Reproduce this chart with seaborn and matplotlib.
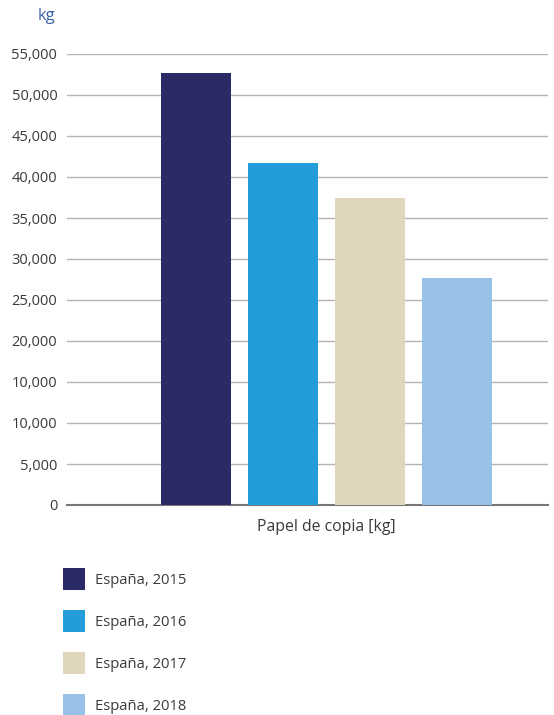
import pandas as pd
import matplotlib.pyplot as plt
import seaborn as sns

# data
category = 'Papel de copia [kg]'
years = ['España, 2015', 'España, 2016', 'España, 2017', 'España, 2018']
values = [52700, 41700, 37450, 27700]
colors = ['#2a2b66', '#229dd9', '#e0d6bc', '#98c1e8']
tick_values = [0, 5000, 10000, 15000, 20000, 25000, 30000, 35000, 40000, 45000, 50000, 55000]
# the reference repeats "10,000" at the 15,000 line
tick_labels = ['0', '5,000', '10,000', '10,000', '20,000', '25,000', '30,000',
               '35,000', '40,000', '45,000', '50,000', '55,000']

df = pd.DataFrame({'Category': [category] * len(years), 'Year': years, 'Value': values})

sns.set_style("white")
plt.rcParams['font.family'] = ['Open Sans', 'DejaVu Sans']

fig = plt.figure(figsize=(5.54, 7.15), dpi=100)
ax = fig.add_axes([67 / 554, 1 - 505 / 715, (548 - 67) / 554, (505 - 54) / 715])

sns.barplot(
    data=df,
    x='Category',
    y='Value',
    hue='Year',
    palette=colors,
    gap=0.2,
    saturation=1,
    linewidth=0,
    ax=ax,
    legend=True,
    zorder=3
)

ax.set_ylim(0, 55000)
ax.set_xlim(-0.597, 0.509)
ax.set_yticks(tick_values)
ax.set_yticklabels(tick_labels)
ax.yaxis.grid(True, color='#b8b1b1', linewidth=1, zorder=0)
ax.tick_params(axis='y', length=0, pad=7, labelsize=10.5, labelcolor='#3a3a3a')
ax.tick_params(axis='x', length=0, pad=10, labelsize=11.3, labelcolor='#3a3a3a')
ax.set_xlabel('')
ax.set_ylabel('')
for side in ['top', 'right', 'left']:
    ax.spines[side].set_visible(False)
ax.spines['bottom'].set_color('#777777')
ax.spines['bottom'].set_linewidth(1.5)

fig.text(38 / 554, 1 - 16 / 715, 'kg', color='#3a5fa8', fontsize=12, va='center')

handles, labels = ax.get_legend_handles_labels()
ax.legend_.remove()
fig.legend(
    handles, labels,
    loc='upper left',
    bbox_to_anchor=(63 / 554, 1 - 568 / 715),
    bbox_transform=fig.transFigure,
    frameon=False,
    borderpad=0,
    borderaxespad=0,
    handlelength=1.49,
    handleheight=1.92,
    handletextpad=0.65,
    labelspacing=1.36,
    fontsize=10.6,
    labelcolor='#3a3a3a'
)

fig.savefig('out.png', dpi=100)
